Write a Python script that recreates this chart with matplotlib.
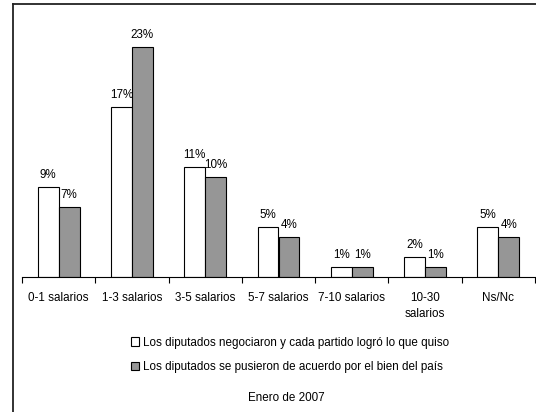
import matplotlib
matplotlib.use('Agg')
import matplotlib.pyplot as plt
from matplotlib.lines import Line2D
import numpy as np

plt.rcParams['font.family'] = ['Liberation Sans', 'DejaVu Sans']

categorias = ['0-1 salarios', '1-3 salarios', '3-5 salarios', '5-7 salarios',
              '7-10 salarios', '10-30\nsalarios', 'Ns/Nc']
negociaron = [9, 17, 11, 5, 1, 2, 5]
acuerdo = [7, 23, 10, 4, 1, 1, 4]
serie1 = 'Los diputados negociaron y cada partido logró lo que quiso'
serie2 = 'Los diputados se pusieron de acuerdo por el bien del país'

fs = 8.4
fig = plt.figure(figsize=(5.36, 4.12), dpi=100)
ax = fig.add_axes([22/536, 1 - 277/412, 513/536, 250/412])

x = np.arange(len(categorias))
w = 0.285
b1 = ax.bar(x - w/2, negociaron, w, color='white', edgecolor='black', linewidth=0.8, label=serie1)
b2 = ax.bar(x + w/2, acuerdo, w, color='#969696', edgecolor='black', linewidth=0.8, label=serie2)
ax.bar_label(b1, labels=['%d%%' % v for v in negociaron], padding=4, fontsize=fs)
ax.bar_label(b2, labels=['%d%%' % v for v in acuerdo], padding=4, fontsize=fs)

ax.set_xlim(-0.5, len(categorias) - 0.5)
ax.set_ylim(0, 25)
ax.set_yticks([])
for s in ['top', 'right', 'left']:
    ax.spines[s].set_visible(False)
ax.spines['bottom'].set_linewidth(0.8)
ax.set_xticks(x)
ax.set_xticklabels(categorias, fontsize=fs, va='top', linespacing=1.45)
ax.tick_params(axis='x', which='major', length=0, pad=11)
ax.set_xticks(np.arange(len(categorias) + 1) - 0.5, minor=True)
ax.tick_params(axis='x', which='minor', length=4, width=0.8, direction='out')

fig.legend(handles=[b1, b2], loc='center', bbox_to_anchor=(290/536, 1 - 355/412),
           frameon=False, fontsize=fs, handlelength=0.7, handleheight=0.7,
           handletextpad=0.3, labelspacing=1.1)
fig.text(286/536, 1 - 398/412, 'Enero de 2007', ha='center', va='center', fontsize=fs)

# marco exterior (solo se ven el borde izquierdo y el superior)
fig.add_artist(Line2D([13/536, 13/536], [0, 1 - 4/412], transform=fig.transFigure, color='#222222', linewidth=1.3))
fig.add_artist(Line2D([13/536, 1], [1 - 4/412, 1 - 4/412], transform=fig.transFigure, color='#222222', linewidth=1.3))

plt.savefig('out.png', dpi=100)
